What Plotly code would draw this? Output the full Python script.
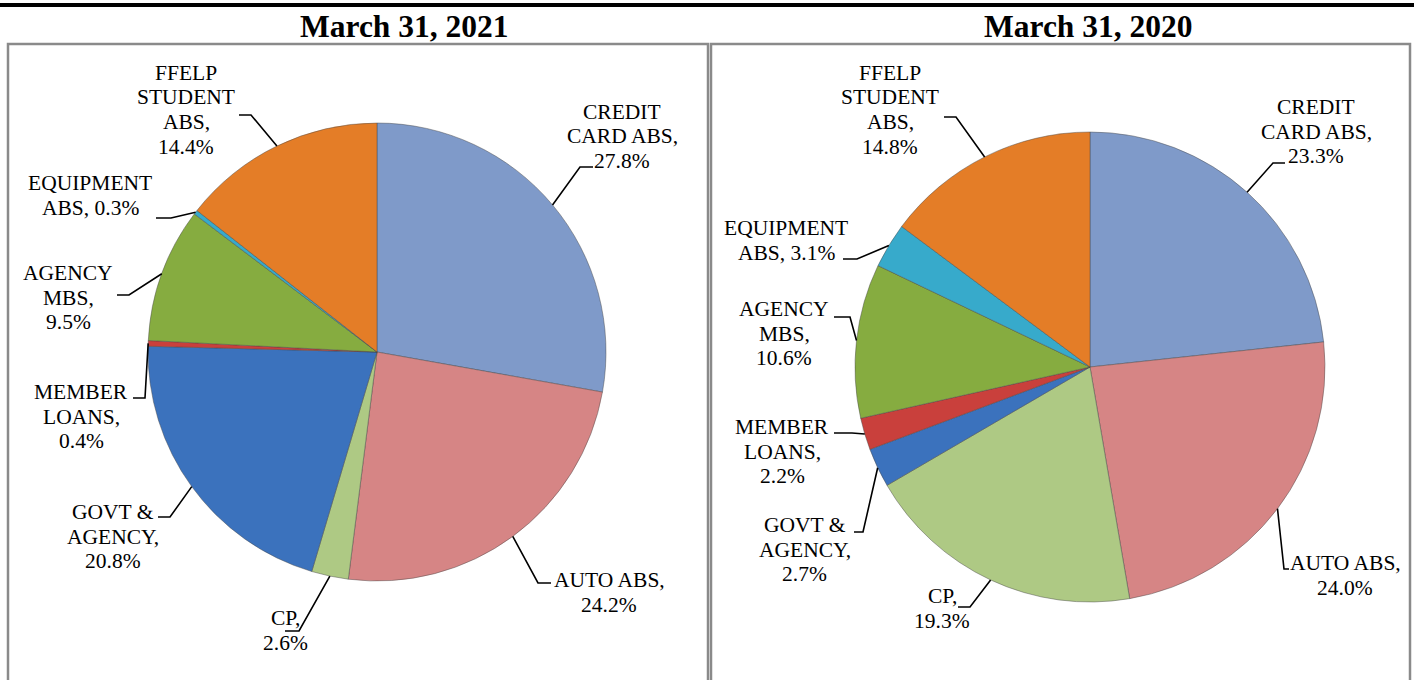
import math
import plotly.graph_objects as go

# ---------------- data ----------------
categories = ["CREDIT CARD ABS", "AUTO ABS", "CP", "GOVT & AGENCY",
              "MEMBER LOANS", "AGENCY MBS", "EQUIPMENT ABS", "FFELP STUDENT ABS"]
values_2021 = [27.8, 24.2, 2.6, 20.8, 0.4, 9.5, 0.3, 14.4]
values_2020 = [23.3, 24.0, 19.3, 2.7, 2.2, 10.6, 3.1, 14.8]
panel_titles = ["March 31, 2021", "March 31, 2020"]
# how each data label is wrapped onto lines ({v} = percentage)
label_wraps = [
    ["CREDIT", "CARD ABS,", "{v}"],
    ["AUTO ABS,", "{v}"],
    ["CP,", "{v}"],
    ["GOVT &", "AGENCY,", "{v}"],
    ["MEMBER", "LOANS,", "{v}"],
    ["AGENCY", "MBS,", "{v}"],
    ["EQUIPMENT", "ABS, {v}"],
    ["FFELP", "STUDENT", "ABS,", "{v}"],
]

# ---------------- style / layout ----------------
colors = ["#7F9AC9", "#D68585", "#AEC984", "#3B72BD",
          "#C9403C", "#86AC40", "#37AACB", "#E47D27"]
W, H = 1414, 680
FONT = "Liberation Serif, Times New Roman, serif"
LABEL_SIZE = 21.5
LINE_GAP = 24.5

# pie centre / radius in pixels
pies = [
    dict(values=values_2021, cx=377, cy=352, r=229, title_x=404),
    dict(values=values_2020, cx=1090, cy=367, r=235, title_x=1088),
]
# label layout per slice: text centre x, first line y, elbow point, end point
label_layout = [
    [  # 2021
        dict(tx=622, ty=112, elbow=(580, 167), end=(593, 167)),
        dict(tx=609, ty=580, elbow=(538, 583), end=(551, 583)),
        dict(tx=285, ty=618, elbow=(299, 631), end=(285, 631)),
        dict(tx=113, ty=512, elbow=(170, 517), end=(158, 517)),
        dict(tx=81, ty=392, elbow=(145, 398), end=(133, 398)),
        dict(tx=68, ty=273, elbow=(129, 295), end=(117, 295)),
        dict(tx=90, ty=183, elbow=(171, 218), end=(156, 218)),
        dict(tx=186, ty=73, elbow=(251, 115), end=(239, 115)),
    ],
    [  # 2020
        dict(tx=1316, ty=107, elbow=(1273, 163), end=(1285, 163)),
        dict(tx=1345, ty=563, elbow=(1284, 569), end=(1289, 569)),
        dict(tx=942, ty=596, elbow=(970, 607), end=(958, 607)),
        dict(tx=805, ty=525, elbow=(863, 532), end=(854, 532)),
        dict(tx=782, ty=427, elbow=(852, 433), end=(834, 433)),
        dict(tx=784, ty=309, elbow=(850, 317), end=(834, 317)),
        dict(tx=786, ty=228, elbow=(857, 259), end=(843, 259)),
        dict(tx=890, ty=73, elbow=(956, 117), end=(944, 117)),
    ],
]


def px(x, y):
    return x / W, 1 - y / H


fig = go.Figure()
shapes = []
annotations = []

# top rule and panel boxes
shapes.append(dict(type="line", xref="paper", yref="paper",
                   x0=0, x1=1, y0=1 - 5 / H, y1=1 - 5 / H,
                   line=dict(color="black", width=4)))
for (x0, x1) in [(8, 708), (711, 1410)]:
    shapes.append(dict(type="rect", xref="paper", yref="paper",
                       x0=x0 / W, x1=x1 / W, y0=-0.01, y1=1 - 44 / H,
                       line=dict(color="#8A8A8A", width=2.5)))

for p, lay, title in zip(pies, label_layout, panel_titles):
    cx, cy, r = p["cx"], p["cy"], p["r"]
    fig.add_trace(go.Pie(
        labels=categories, values=p["values"], sort=False,
        direction="clockwise", rotation=0, textinfo="none",
        marker=dict(colors=colors, line=dict(color="rgba(70,70,70,0.45)", width=1)),
        domain=dict(x=[(cx - r) / W, (cx + r) / W],
                    y=[1 - (cy + r) / H, 1 - (cy - r) / H]),
        showlegend=False, hovertemplate="%{label}: %{value:.1f}%<extra></extra>",
    ))
    tx, ty = px(p["title_x"], 27)
    annotations.append(dict(text=f"<b>{title}</b>", x=tx, y=ty, xref="paper", yref="paper",
                            showarrow=False, xanchor="center", yanchor="middle",
                            font=dict(family=FONT, size=31.5, color="black")))
    total = sum(p["values"])
    cum = 0.0
    for i, v in enumerate(p["values"]):
        theta = 2 * math.pi * (cum + v / 2) / total
        cum += v
        ex, ey = cx + r * math.sin(theta), cy - r * math.cos(theta)
        L = lay[i]
        a = px(ex, ey)
        b = px(*L["elbow"])
        c = px(*L["end"])
        shapes.append(dict(type="path", xref="paper", yref="paper",
                           path=f"M {a[0]},{a[1]} L {b[0]},{b[1]} L {c[0]},{c[1]}",
                           line=dict(color="black", width=1.6)))
        vtxt = f"{v:.1f}%"
        for k, line in enumerate(label_wraps[i]):
            lx, ly = px(L["tx"], L["ty"] + k * LINE_GAP)
            annotations.append(dict(text=line.replace("{v}", vtxt), x=lx, y=ly,
                                    xref="paper", yref="paper", showarrow=False,
                                    xanchor="center", yanchor="middle",
                                    font=dict(family=FONT, size=LABEL_SIZE, color="black")))

fig.update_layout(width=W, height=H, margin=dict(l=0, r=0, t=0, b=0),
                  paper_bgcolor="white", plot_bgcolor="white",
                  shapes=shapes, annotations=annotations)
fig.write_html("out.html", config={"displayModeBar": False},
               post_script="document.body.style.margin='0';document.body.style.overflow='hidden';")
